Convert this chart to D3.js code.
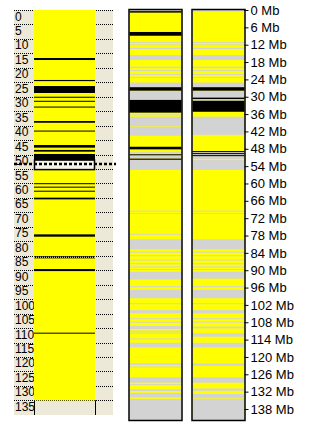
<!DOCTYPE html>
<html>
<head>
<meta charset="utf-8">
<script src="https://cdn.jsdelivr.net/npm/d3@7"></script>
<style>
  body { margin: 0; background: #fff; }
  svg { display: block; }
</style>
</head>
<body>
<div id="chart"></div>
<script>
// Data (Mb)
var rowLabels = d3.range(0, 140, 5);          // 0 .. 135
var mbTicks = d3.range(0, 144, 6);            // 0 .. 138
var chromLength = 141.8;
var dataEnd = 135;

// black markers in the left overview panel
var markers = [[16.6,17.3],[24.2,24.6],[26.3,28.7],[30.0,30.3],[31.4,31.7],[33.4,33.7],
  [38.4,39.0],[41.7,42.0],[46.7,47.6],[48.4,49.0],[49.8,51.9],[59.9,60.2],[61.1,61.4],
  [62.5,62.8],[64.9,65.5],[77.6,78.4],[85.1,85.9],[89.6,90.3],[111.6,111.9]];
var highlightMarker = 85.5;
var selection = [51.9, 55.2];
var selectionLine = 53.3;

// haplotype columns
var col1Gray = [[0,0.4],[11.1,11.4],[11.9,12.2],[13.0,13.5],[15.6,17.3],[19.6,20.1],[20.8,21.1],
  [22.1,22.4],[23.1,23.4],[25.1,26.7],[27.9,31.1],[36.1,36.4],[36.9,40.1],[40.3,43.5],[49.0,49.4],
  [49.6,49.9],[50.25,51.4],[51.8,55.3],[69.4,69.7],[70.2,70.5],[77.4,77.7],[79.3,82.8],[83.6,83.9],
  [84.8,85.1],[86.3,86.6],[87.6,87.9],[88.7,89.0],[89.6,89.9],[90.5,93.2],[95.5,95.9],[96.8,99.7],
  [101.4,101.7],[103.8,104.9],[106.6,106.9],[107.8,108.1],[109.3,110.3],[110.9,111.3],[111.6,111.8],
  [113.6,113.9],[115.1,116.7],[122.2,122.8],[123.3,123.6],[127.0,128.9],[129.4,129.7],[131.2,131.8],
  [132.4,134.0],[134.5,141.8]];
var col1Black = [[0.4,0.9],[7.6,8.9],[26.7,27.9],[31.1,35.5],[47.3,48.2],[49.9,50.25],[51.4,51.8]];

var col2Gray = [[0,0.5],[11.1,11.4],[11.9,12.2],[13.0,13.5],[15.6,17.3],[19.6,20.1],[20.8,21.1],
  [22.1,22.4],[23.1,23.4],[25.1,26.7],[27.9,30.3],[30.8,31.4],[36.9,43.2],[49.1,49.5],[49.8,50.2],
  [50.5,51.5],[51.9,55.3],[69.4,69.7],[70.2,70.5],[79.3,82.8],[83.6,83.9],[84.8,85.1],[86.3,86.6],
  [87.6,87.9],[88.7,89.0],[89.6,89.9],[90.5,92.9],[95.5,95.9],[96.8,99.7],[101.4,101.7],[103.8,104.9],
  [106.6,106.9],[107.8,108.1],[109.5,110.1],[111.8,113.0],[115.1,116.7],[122.2,123.1],[127.0,128.9],
  [130.9,131.7],[132.8,134.3],[134.5,141.8]];
var col2Black = [[26.7,27.9],[30.3,30.8],[31.4,35.2],[48.8,49.1],[49.5,49.8],[50.2,50.5]];

var YELLOW = "#ffff00", GRAY = "#d3d3d3", BEIGE = "#ece9d8";

var svg = d3.select("#chart").append("svg")
  .attr("width", 315)
  .attr("height", 428);

var y = d3.scaleLinear().domain([0, 138]).range([10, 409]);
var h = function(d) { return Math.max(1, y(d[1]) - y(d[0])); };

// ---- left overview panel
var left = svg.append("g");
left.append("rect")
  .attr("x", 14).attr("y", y(0))
  .attr("width", 99).attr("height", 415 - y(0))
  .attr("fill", BEIGE);

left.selectAll(".grid")
  .data(rowLabels)
  .enter().append("line")
  .attr("x1", 14).attr("x2", 113)
  .attr("y1", function(d) { return Math.round(y(d)) + 0.5; })
  .attr("y2", function(d) { return Math.round(y(d)) + 0.5; })
  .attr("stroke", "#000")
  .attr("stroke-dasharray", "1,1");

left.selectAll(".rowlabel")
  .data(rowLabels)
  .enter().append("text")
  .attr("x", 15)
  .attr("y", function(d) { return y(d) + 10.5; })
  .style("font-family", "'Liberation Sans Narrow', 'Liberation Sans', sans-serif")
  .style("font-size", "12px")
  .text(function(d) { return d; });

left.append("rect")
  .attr("x", 34).attr("y", y(0))
  .attr("width", 61).attr("height", y(dataEnd) - y(0))
  .attr("fill", YELLOW);

left.selectAll(".marker")
  .data(markers)
  .enter().append("rect")
  .attr("x", 34).attr("width", 61)
  .attr("y", function(d) { return y(d[0]); })
  .attr("height", h)
  .attr("fill", "#000");

left.append("line")
  .attr("x1", 34).attr("x2", 95)
  .attr("y1", y(highlightMarker)).attr("y2", y(highlightMarker))
  .attr("stroke", "#fff")
  .attr("stroke-dasharray", "1,1");

left.append("rect")
  .attr("x", 34.5).attr("y", y(selection[0]))
  .attr("width", 60).attr("height", y(selection[1]) - y(selection[0]))
  .attr("fill", "#f5f3ea")
  .attr("stroke", "#000")
  .attr("stroke-width", 1.5);

left.append("line")
  .attr("x1", 14).attr("x2", 116)
  .attr("y1", y(selectionLine)).attr("y2", y(selectionLine))
  .attr("stroke", "#000")
  .attr("stroke-width", 2.5)
  .attr("stroke-dasharray", "3,2");

// empty last row
[34, 95].forEach(function(x) {
  left.append("line")
    .attr("x1", x + 0.5).attr("x2", x + 0.5)
    .attr("y1", y(dataEnd)).attr("y2", 415)
    .attr("stroke", "#000");
});

// ---- haplotype columns
function drawColumn(x0, grays, blacks) {
  var g = svg.append("g");
  g.append("rect")
    .attr("x", x0).attr("y", y(0))
    .attr("width", 52).attr("height", y(chromLength) - y(0))
    .attr("fill", YELLOW);
  g.selectAll(".gray").data(grays).enter().append("rect")
    .attr("x", x0).attr("width", 52)
    .attr("y", function(d) { return y(d[0]); })
    .attr("height", h)
    .attr("fill", GRAY);
  g.selectAll(".black").data(blacks).enter().append("rect")
    .attr("x", x0).attr("width", 52)
    .attr("y", function(d) { return y(d[0]); })
    .attr("height", h)
    .attr("fill", "#000");
  g.append("rect")
    .attr("x", x0 - 0.5).attr("y", y(0) - 0.5)
    .attr("width", 53).attr("height", y(chromLength) - y(0) + 1)
    .attr("fill", "none")
    .attr("stroke", "#000")
    .attr("stroke-width", 1.5);
}
drawColumn(129.5, col1Gray, col1Black);
drawColumn(192.5, col2Gray, col2Black);

// ---- Mb axis
var axis = svg.append("g")
  .attr("transform", "translate(244.5,0)")
  .call(d3.axisRight(y)
    .tickValues(mbTicks)
    .tickSize(4)
    .tickPadding(2)
    .tickFormat(function(d) { return d + " Mb"; }));
axis.select(".domain").remove();
axis.selectAll("text")
  .style("font-family", "'Liberation Sans', Arial, sans-serif")
  .style("font-size", "13px")
  .attr("fill", "#000");
</script>
</body>
</html>
